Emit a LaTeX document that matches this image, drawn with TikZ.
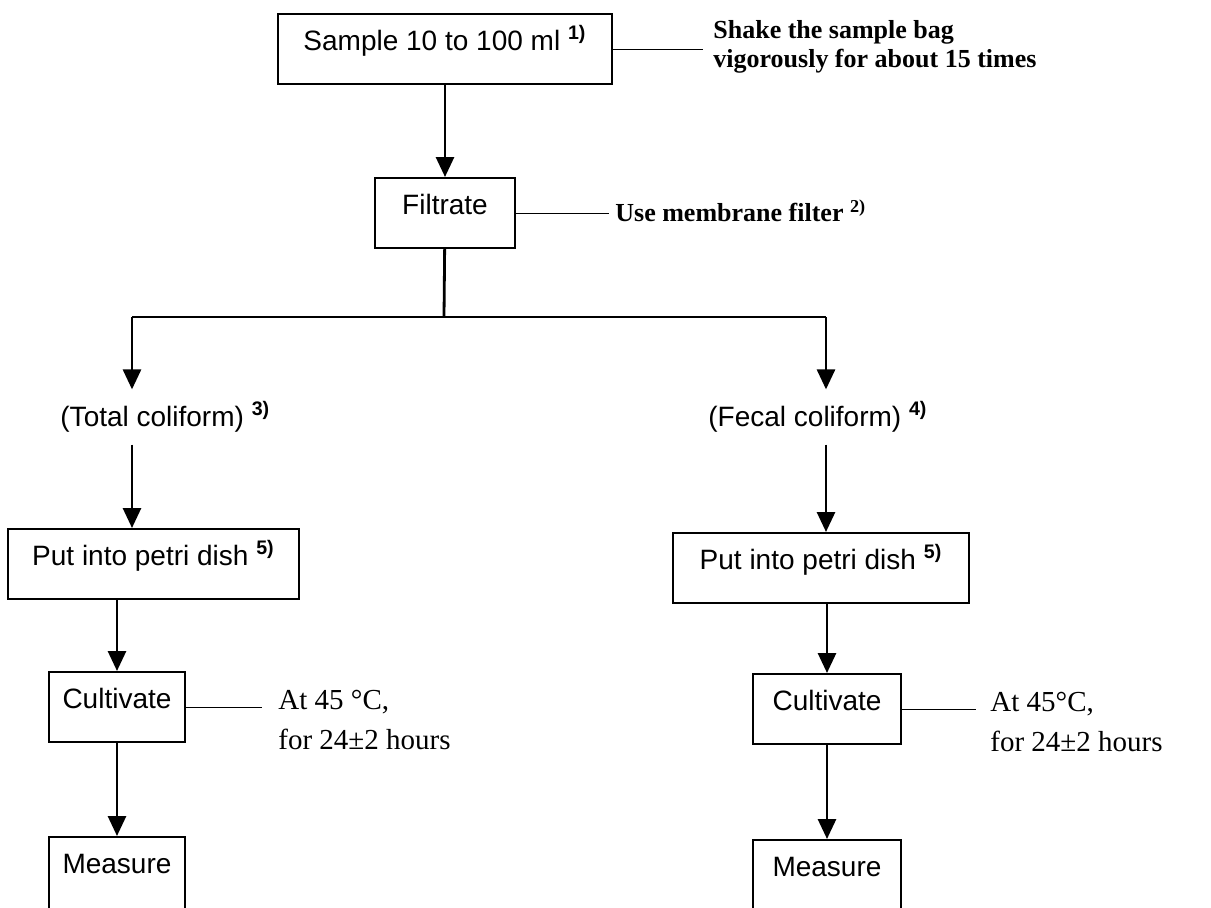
\documentclass[tikz,border=0pt]{standalone}
\usepackage{fontspec}
\setmainfont{Liberation Serif}
\setsansfont{Liberation Sans}
\usetikzlibrary{arrows.meta,positioning,calc}

\begin{document}
\begin{tikzpicture}[
  x=0.5pt,y=-0.5pt,
  font=\sffamily\fontsize{14}{16}\selectfont,
  box/.style={draw,line width=1pt,anchor=north west,align=center,inner sep=0pt,text height=18pt,text depth=17pt},
  lbl/.style={anchor=west,inner xsep=0pt,inner ysep=6pt},
  note/.style={anchor=west,align=left,inner sep=0pt,font=\rmfamily\bfseries\fontsize{13}{14.5}\selectfont},
  cond/.style={anchor=west,align=left,inner sep=0pt,font=\rmfamily\fontsize{14.5}{20}\selectfont},
  arr/.style={-{Triangle[length=10pt,width=9pt]},line width=1.4pt},
  tie/.style={line width=0.5pt},
  sup/.style={},
]
\useasboundingbox (0,0) rectangle (1211,907);
\clip (0,0) rectangle (1211,907);
% main line
\node[box,minimum width=167pt] (sample) at (277,13) {Sample 10 to 100 ml \textsuperscript{\bfseries 1)}};
\node[box,minimum width=70pt] (filt) at (374,177) {Filtrate};
\node[note] (shake) at (713,47) {Shake the sample bag\\vigorously for about 15 times};
\node[note] (memb) at (615,211) {Use membrane filter \textsuperscript{2)}};
\coordinate (jM) at (444,317);
\coordinate (jL) at (132,317);
\coordinate (jR) at (826,317);
% two branches
\node[lbl] (total) at (60,417) {(Total coliform) \textsuperscript{\bfseries 3)}};
\node[lbl] (fecal) at (708,417) {(Fecal coliform) \textsuperscript{\bfseries 4)}};
\node[box,minimum width=145.5pt] (petriL) at (7,528) {Put into petri dish \textsuperscript{\bfseries 5)}};
\node[box,minimum width=148pt] (petriR) at (672,532) {Put into petri dish \textsuperscript{\bfseries 5)}};
\node[box,minimum width=68pt] (cultL) at (48,671) {Cultivate};
\node[box,minimum width=74pt] (cultR) at (752,673) {Cultivate};
\node[box,minimum width=68pt,text depth=40pt] (measL) at (48,836) {Measure};
\node[box,minimum width=74pt,text depth=40pt] (measR) at (752,839) {Measure};
\node[cond] (condL) at (278,720) {At 45 °C,\\for 24±2 hours};
\node[cond] (condR) at (990,722) {At 45°C,\\for 24±2 hours};
% connectors
\draw[arr] (sample) -- (filt);
\draw[line width=1.4pt] (filt) -- (jM);
\draw[line width=0.8pt] (jL) -- (jR);
\draw[arr] (jL) -- (jL |- total.north);
\draw[arr] (jR) -- (jR |- fecal.north);
\draw[arr] (jL |- total.south) -- (jL |- petriL.north);
\draw[arr] (jR |- fecal.south) -- (jR |- petriR.north);
\draw[arr] (petriL.south -| cultL) -- (cultL);
\draw[arr] (petriR.south -| cultR) -- (cultR);
\draw[arr] (cultL) -- (measL);
\draw[arr] (cultR) -- (measR);
\draw[tie,shorten >=5pt] (sample.east) -- (sample.east -| shake.west);
\draw[tie,shorten >=3pt] (filt.east) -- (filt.east -| memb.west);
\draw[tie,shorten >=8pt] (cultL.east) -- (cultL.east -| condL.west);
\draw[tie,shorten >=7pt] (cultR.east) -- (cultR.east -| condR.west);
\end{tikzpicture}
\end{document}
